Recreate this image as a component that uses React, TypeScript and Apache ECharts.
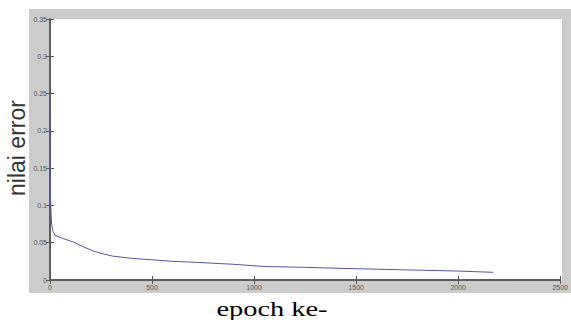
import React, { useEffect, useRef } from "react";
import * as echarts from "echarts";

const epochs = [0, 1, 2, 5, 8, 15, 24, 60, 114, 160, 211, 260, 308, 400, 505, 600, 732, 900, 1058, 1250, 1431, 1600, 1773, 2000, 2172];
const errors = [0.247, 0.19, 0.113, 0.09, 0.074, 0.065, 0.06, 0.056, 0.051, 0.045, 0.039, 0.035, 0.032, 0.029, 0.027, 0.025, 0.0235, 0.021, 0.018, 0.017, 0.0156, 0.0145, 0.0134, 0.012, 0.0103];
const xTicks = [0, 500, 1000, 1500, 2000, 2500];
const yTicks = [0, 0.05, 0.1, 0.15, 0.2, 0.25, 0.3, 0.35];
const xTitle = "epoch ke-";
const yTitle = "nilai error";

export default function App() {
  const ref = useRef<HTMLDivElement>(null);
  useEffect(() => {
    const chart = echarts.init(ref.current!, null, { renderer: "svg" });
    const tickLabel = { fontSize: 7, color: "#555", fontFamily: "Liberation Sans, Arial, sans-serif" };
    const axisLine = { show: true, lineStyle: { color: "#555", width: 1.5 } };
    const tick = { show: true, inside: true, length: 4, lineStyle: { color: "#555" } };
    chart.setOption({
      animation: false,
      backgroundColor: "#ffffff",
      graphic: [
        { type: "rect", z: -10, shape: { x: 29, y: 9, width: 542, height: 284 }, style: { fill: "#cccccc" } },
        { type: "rect", z: -9, shape: { x: 50, y: 19, width: 512, height: 261 }, style: { fill: "#ffffff" } },
        {
          type: "text", x: 17, y: 148, rotation: Math.PI / 2, style: {
            text: yTitle, fill: "#333", fontSize: 23, fontFamily: "Liberation Sans, Arial, sans-serif",
            align: "center", verticalAlign: "middle"
          }
        },
        {
          type: "text", x: 272, y: 309, scaleX: 1.42, style: {
            text: xTitle, fill: "#000", fontSize: 20, fontFamily: "Liberation Serif, Times New Roman, serif",
            align: "center", verticalAlign: "middle"
          }
        }
      ],
      grid: { left: 50, right: 9, top: 19, bottom: 40, show: false },
      xAxis: [
        {
          type: "value", min: 0, max: 2500, interval: 500, position: "bottom",
          axisLine, axisTick: tick, splitLine: { show: false },
          axisLabel: { ...tickLabel, margin: 4, formatter: (v: number) => (xTicks.includes(v) ? String(v) : "") }
        },
        {
          type: "value", min: 0, max: 2500, interval: 500, position: "top",
          axisLine, axisTick: tick, splitLine: { show: false }, axisLabel: { show: false }
        }
      ],
      yAxis: [
        {
          type: "value", min: 0, max: 0.35, interval: 0.05, position: "left",
          axisLine, axisTick: tick, splitLine: { show: false },
          axisLabel: { ...tickLabel, margin: 3, formatter: (v: number) => {
            const t = yTicks.find((y) => Math.abs(y - v) < 1e-9);
            return t === undefined ? "" : String(Number(t.toFixed(2)));
          } }
        },
        {
          type: "value", min: 0, max: 0.35, interval: 0.05, position: "right",
          axisLine, axisTick: tick, splitLine: { show: false }, axisLabel: { show: false }
        }
      ],
      series: [
        {
          type: "line",
          data: epochs.map((e, i) => [e, errors[i]]),
          showSymbol: false,
          smooth: false,
          lineStyle: { color: "#5555aa", width: 1 },
          xAxisIndex: 0,
          yAxisIndex: 0
        }
      ]
    });
    return () => chart.dispose();
  }, []);
  return <div ref={ref} style={{ width: 571, height: 320, position: "absolute", left: 0, top: 0 }} />;
}
